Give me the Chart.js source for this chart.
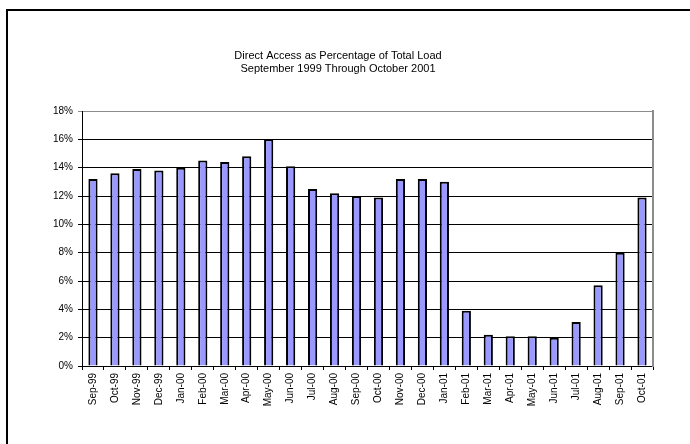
<!DOCTYPE html>
<html>
<head>
<meta charset="utf-8">
<style>
  html, body { margin: 0; padding: 0; background: #fff; }
  #frame { position: absolute; left: 6px; top: 9px; width: 800px; height: 600px; border: 2px solid #000; box-sizing: border-box; }
  #wrap { position: absolute; left: 0; top: 0; width: 690px; height: 444px; }
</style>
<script src="https://cdn.jsdelivr.net/npm/chart.js@4/dist/chart.umd.min.js"></script>
</head>
<body>
<div id="frame"></div>
<div id="wrap"><canvas id="c" width="690" height="444"></canvas></div>
<script>
// Monthly share of total load served under direct access
const months = ['Sep-99','Oct-99','Nov-99','Dec-99','Jan-00','Feb-00','Mar-00','Apr-00','May-00','Jun-00',
  'Jul-00','Aug-00','Sep-00','Oct-00','Nov-00','Dec-00','Jan-01','Feb-01','Mar-01','Apr-01',
  'May-01','Jun-01','Jul-01','Aug-01','Sep-01','Oct-01'];
const directAccessPct = [13.2, 13.6, 13.9, 13.8, 14.0, 14.5, 14.4, 14.8, 16.0, 14.1,
  12.5, 12.2, 12.0, 11.9, 13.2, 13.2, 13.0, 3.9, 2.2, 2.1,
  2.1, 2.0, 3.1, 5.7, 8.0, 11.9];
const titleLines = ['Direct Access as Percentage of Total Load', 'September 1999 Through October 2001'];
const yTicks = [0, 2, 4, 6, 8, 10, 12, 14, 16, 18];

const FONT = "Arial, 'Liberation Sans', sans-serif";

new Chart(document.getElementById('c'), {
  type: 'bar',
  data: {
    labels: months,
    datasets: [{
      data: directAccessPct,
      backgroundColor: '#9999FF',
      borderColor: '#000000',
      borderWidth: 2,
      barPercentage: 0.42,
      categoryPercentage: 1.0
    }]
  },
  options: {
    responsive: false,
    animation: false,
    devicePixelRatio: 1,
    layout: { padding: { left: 0, right: 14, top: 0, bottom: 0 } },
    plugins: {
      legend: { display: false },
      tooltip: { enabled: false },
      title: {
        display: true,
        text: titleLines,
        color: '#000',
        font: { family: FONT, size: 11, weight: 'normal', lineHeight: 13.5 / 11 },
        padding: { top: 49, bottom: 35 }
      }
    },
    scales: {
      x: {
        grid: { offset: true, drawOnChartArea: false, drawTicks: true, tickLength: 4, color: '#000' },
        border: { display: true, color: '#000', width: 1 },
        ticks: {
          autoSkip: false, minRotation: 90, maxRotation: 90, padding: 3,
          color: '#000', font: { family: FONT, size: 10 }
        },
        afterFit: s => { s.height = 78; }
      },
      y: {
        min: 0, max: 18,
        afterBuildTicks: s => { s.ticks = yTicks.map(v => ({ value: v })); },
        grid: {
          drawTicks: true, tickLength: 4,
          color: ctx => (ctx.tick && ctx.tick.value === 18) ? '#8c8c8c' : '#000',
          lineWidth: 1
        },
        border: { display: true, color: '#000', width: 1 },
        ticks: {
          padding: 5, color: '#000', font: { family: FONT, size: 10 },
          callback: v => v + '%'
        },
        afterFit: s => { s.width = 82; }
      },
      yRight: {
        position: 'right',
        min: 0, max: 18,
        grid: { drawOnChartArea: false, drawTicks: false },
        border: { display: true, color: '#8c8c8c', width: 2 },
        ticks: { display: false },
        afterFit: s => { s.width = 23; }
      }
    }
  }
});
</script>
</body>
</html>
